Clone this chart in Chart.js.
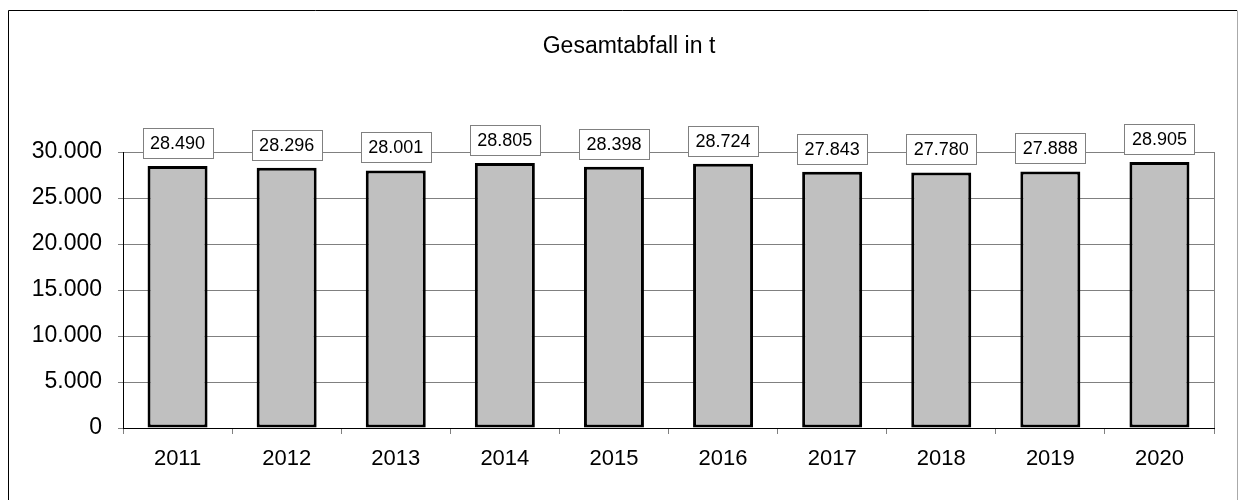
<!DOCTYPE html>
<html>
<head>
<meta charset="utf-8">
<script src="https://cdn.jsdelivr.net/npm/chart.js@4/dist/chart.umd.min.js"></script>
<style>
  html, body { margin: 0; padding: 0; background: #fff; }
  #wrap { width: 1242px; height: 500px; position: relative; }
</style>
</head>
<body>
<div id="wrap"><canvas id="chart"></canvas></div>
<script>
const years = ['2011', '2012', '2013', '2014', '2015', '2016', '2017', '2018', '2019', '2020'];
const tonnes = [28490, 28296, 28001, 28805, 28398, 28724, 27843, 27780, 27888, 28905];
const yTicks = [0, 5000, 10000, 15000, 20000, 25000, 30000];
const chartTitle = 'Gesamtabfall in t';

const FONT = '"Liberation Sans", Arial, sans-serif';

// 30000 -> "30.000"
const fmt = v => String(v).replace(/\B(?=(\d{3})+(?!\d))/g, '.');

// outer frame, title, plot border
const framePlugin = {
  id: 'frame',
  beforeDraw(chart) {
    const c = chart.ctx;
    c.save();
    c.fillStyle = '#fff';
    c.fillRect(0, 0, chart.width, chart.height);
    c.lineWidth = 1;
    c.strokeStyle = '#000';
    c.beginPath();
    c.moveTo(8.5, chart.height);
    c.lineTo(8.5, 10.5);
    c.lineTo(1237, 10.5);
    c.stroke();
    c.strokeStyle = '#aaa';
    c.beginPath();
    c.moveTo(1237.5, 10.5);
    c.lineTo(1237.5, chart.height);
    c.stroke();
    c.restore();
  },
  afterDraw(chart) {
    const a = chart.chartArea;
    const c = chart.ctx;
    c.save();
    c.lineWidth = 1;
    c.strokeStyle = '#808080';
    c.beginPath();
    c.moveTo(Math.round(a.right) + 0.5, a.top);
    c.lineTo(Math.round(a.right) + 0.5, a.bottom);
    c.stroke();
    c.fillStyle = '#000';
    c.font = '23px ' + FONT;
    c.textAlign = 'center';
    c.textBaseline = 'middle';
    c.fillText(chartTitle, 629, 47);
    c.restore();
  }
};

// boxed value labels above bars
const boxLabels = {
  id: 'boxLabels',
  afterDatasetsDraw(chart) {
    const c = chart.ctx;
    const meta = chart.getDatasetMeta(0);
    c.save();
    c.font = '18px ' + FONT;
    c.textAlign = 'center';
    c.textBaseline = 'middle';
    meta.data.forEach((bar, i) => {
      const w = 70, h = 30;
      const x = Math.round(bar.x - w / 2) + 0.5;
      const y = Math.round(bar.y - 8 - h) + 0.5;
      c.fillStyle = '#fff';
      c.fillRect(x, y, w, h);
      c.strokeStyle = '#808080';
      c.lineWidth = 1;
      c.strokeRect(x, y, w, h);
      c.fillStyle = '#000';
      c.fillText(fmt(tonnes[i]), bar.x, y + h / 2 + 1);
    });
    c.restore();
  }
};

new Chart(document.getElementById('chart'), {
  type: 'bar',
  data: {
    labels: years,
    datasets: [{
      data: tonnes,
      backgroundColor: '#c0c0c0',
      borderColor: '#000',
      borderWidth: 3,
      borderSkipped: false,
      barPercentage: 0.55,
      categoryPercentage: 1.0
    }]
  },
  options: {
    responsive: true,
    maintainAspectRatio: false,
    animation: false,
    layout: { padding: { left: 0, right: 28, top: 152, bottom: 0 } },
    plugins: {
      legend: { display: false },
      tooltip: { enabled: false },
      title: { display: false }
    },
    scales: {
      x: {
        grid: {
          display: true,
          drawOnChartArea: false,
          drawTicks: true,
          tickLength: 6,
          color: '#808080',
          offset: true
        },
        border: { display: true, color: '#000', width: 1 },
        ticks: {
          color: '#000',
          padding: 12,
          font: { family: FONT, size: 22 },
          maxRotation: 0
        },
        afterFit(s) { s.height = 72; }
      },
      y: {
        min: 0,
        max: 30000,
        afterBuildTicks(s) { s.ticks = yTicks.map(v => ({ value: v })); },
        grid: {
          color: '#808080',
          tickLength: 5,
          drawTicks: true
        },
        border: { display: true, color: '#000', width: 1 },
        ticks: {
          color: '#000',
          padding: 16,
          font: { family: FONT, size: 23 },
          callback: v => fmt(v)
        },
        afterFit(s) { s.width = 123; }
      }
    }
  },
  plugins: [framePlugin, boxLabels]
});
</script>
</body>
</html>
